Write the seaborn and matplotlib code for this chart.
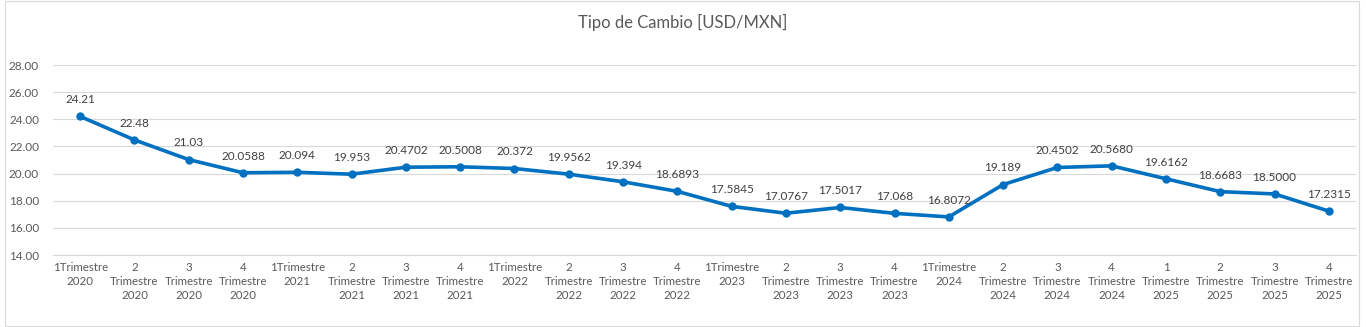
import matplotlib
matplotlib.use("Agg")
import matplotlib.pyplot as plt
import seaborn as sns
import pandas as pd
from matplotlib.patches import Rectangle

categories = [
    "1Trimestre\n2020", "2\nTrimestre\n2020", "3\nTrimestre\n2020", "4\nTrimestre\n2020",
    "1Trimestre\n2021", "2\nTrimestre\n2021", "3\nTrimestre\n2021", "4\nTrimestre\n2021",
    "1Trimestre\n2022", "2\nTrimestre\n2022", "3\nTrimestre\n2022", "4\nTrimestre\n2022",
    "1Trimestre\n2023", "2\nTrimestre\n2023", "3\nTrimestre\n2023", "4\nTrimestre\n2023",
    "1Trimestre\n2024", "2\nTrimestre\n2024", "3\nTrimestre\n2024", "4\nTrimestre\n2024",
    "1\nTrimestre\n2025", "2\nTrimestre\n2025", "3\nTrimestre\n2025", "4\nTrimestre\n2025",
]
values = [24.21, 22.48, 21.03, 20.0588, 20.094, 19.953, 20.4702, 20.5008,
          20.372, 19.9562, 19.394, 18.6893, 17.5845, 17.0767, 17.5017, 17.068,
          16.8072, 19.189, 20.4502, 20.5680, 19.6162, 18.6683, 18.5000, 17.2315]
value_labels = ["24.21", "22.48", "21.03", "20.0588", "20.094", "19.953", "20.4702", "20.5008",
                "20.372", "19.9562", "19.394", "18.6893", "17.5845", "17.0767", "17.5017", "17.068",
                "16.8072", "19.189", "20.4502", "20.5680", "19.6162", "18.6683", "18.5000", "17.2315"]
y_ticks = [14, 16, 18, 20, 22, 24, 26, 28]
title = "Tipo de Cambio [USD/MXN]"

sns.set_theme(style="white")
plt.rcParams['font.family'] = ['Lato', 'DejaVu Sans']

df = pd.DataFrame({"pos": range(len(categories)), "valor": values})

fig = plt.figure(figsize=(13.66, 3.27), dpi=100)
fig.patches.append(Rectangle((0.004, 0.003), 0.991, 0.994, transform=fig.transFigure,
                             fill=False, edgecolor="#D9D9D9", linewidth=0.8))
ax = fig.add_axes([53/1366, 1-255/327, (1356-53)/1366, (255-65)/327])

sns.lineplot(data=df, x="pos", y="valor", ax=ax, color="#0070C0", linewidth=2.6,
             marker="o", markersize=6, markeredgewidth=0, legend=False)

for x, y, lab in zip(df["pos"], df["valor"], value_labels):
    ax.annotate(lab, (x, y), xytext=(0, 8), textcoords="offset points",
                ha="center", va="bottom", fontsize=8.5, color="#404040")

ax.set_xlim(-0.5, len(categories) - 0.5)
ax.set_ylim(14, 28)
ax.set_yticks(y_ticks)
ax.set_yticklabels([f"{t:.2f}" for t in y_ticks], fontsize=8.5, color="#595959")
ax.set_xticks(range(len(categories)))
ax.set_xticklabels(categories, fontsize=8.3, color="#595959", linespacing=1.35)
ax.set_xticks([i - 0.5 for i in range(len(categories) + 1)], minor=True)
ax.tick_params(axis="x", which="major", length=0, pad=5)
ax.tick_params(axis="x", which="minor", length=5, color="#D9D9D9", width=0.8, direction="out")
ax.tick_params(axis="y", length=0, pad=10)
ax.yaxis.grid(True, color="#D9D9D9", linewidth=0.8)
ax.set_axisbelow(True)
for s in ["top", "right", "left"]:
    ax.spines[s].set_visible(False)
ax.spines["bottom"].set_color("#D9D9D9")
ax.spines["bottom"].set_linewidth(0.8)
ax.set_xlabel("")
ax.set_ylabel("")

fig.text(0.5, 1-22/327, title, ha="center", va="center", fontsize=12, color="#595959")

fig.savefig("out.png", dpi=100, facecolor="white")
